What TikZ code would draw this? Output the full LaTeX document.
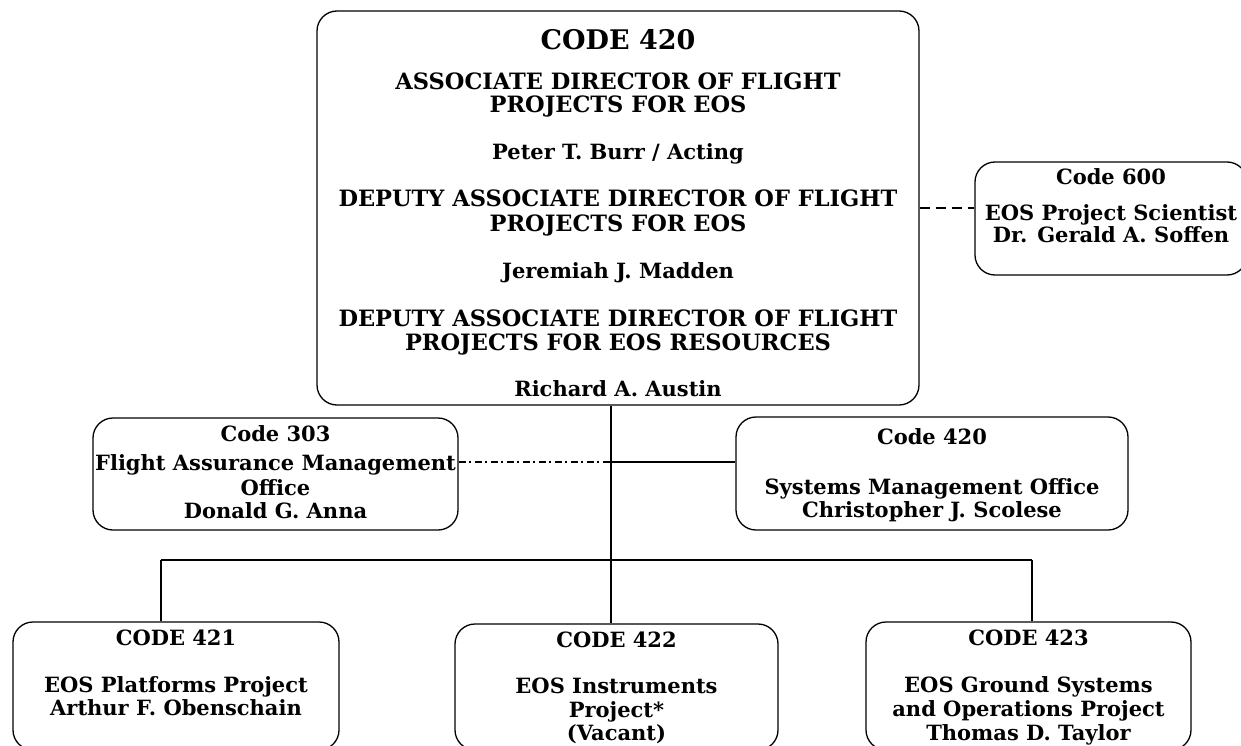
\documentclass[tikz,border=0pt]{standalone}
\usepackage{fontspec}
\setmainfont{DejaVu Serif}
\usetikzlibrary{positioning}

\tikzset{
    orgbox/.style={draw, line width=1.3pt, rounded corners=20pt, inner sep=0pt},
    lbl/.style={font=\bfseries\fontsize{21}{24}\selectfont, anchor=base, inner sep=0pt},
    capl/.style={lbl, font=\bfseries\fontsize{22.5}{25}\selectfont},
    bigl/.style={lbl, font=\bfseries\fontsize{27}{30}\selectfont},
    link/.style={line width=1.2pt}
}

\begin{document}
\begin{tikzpicture}[x=1pt, y=-1pt]
    \useasboundingbox (0,0) rectangle (1241,746);

    % boxes
    \node[orgbox, minimum width=602pt, minimum height=394pt] (dir) at (618,208) {};
    \node[orgbox, minimum width=272pt, minimum height=113pt] (sci) at (1111,218.5) {};
    \node[orgbox, minimum width=365pt, minimum height=112pt] (fam) at (275.5,474) {};
    \node[orgbox, minimum width=392pt, minimum height=113pt] (smo) at (932,473.5) {};
    \node[orgbox, minimum width=326pt, minimum height=128pt] (plat) at (176,686) {};
    \node[orgbox, minimum width=323pt, minimum height=126pt] (inst) at (616.5,687) {};
    \node[orgbox, minimum width=325pt, minimum height=128pt] (grnd) at (1028.5,686) {};

    % texts of the director box
    \node[bigl] (dir1) at (618,50) {CODE 420};
    \node[capl] (dir2) at (618,90) {ASSOCIATE DIRECTOR OF FLIGHT};
    \node[capl] (dir3) at (618,113) {PROJECTS FOR EOS};
    \node[lbl] (dir4) at (618,160) {Peter T. Burr / Acting};
    \node[capl] (dir5) at (618,207) {DEPUTY ASSOCIATE DIRECTOR OF FLIGHT};
    \node[capl] (dir6) at (618,231) {PROJECTS FOR EOS};
    \node[lbl] (dir7) at (618,278) {Jeremiah J. Madden};
    \node[capl] (dir8) at (618,326) {DEPUTY ASSOCIATE DIRECTOR OF FLIGHT};
    \node[capl] (dir9) at (618,350) {PROJECTS FOR EOS RESOURCES};
    \node[lbl] (dir10) at (618,396) {Richard A. Austin};

    \node[lbl] (sci1) at (1111,185) {Code 600};
    \node[lbl] (sci2) at (1111,220) {EOS Project Scientist};
    \node[lbl] (sci3) at (1111,242) {Dr. Gerald A. Soffen};

    \node[lbl] (fam1) at (275.5,441) {Code 303};
    \node[lbl] (fam2) at (275.5,470) {Flight Assurance Management};
    \node[lbl] (fam3) at (275.5,495) {Office};
    \node[lbl] (fam4) at (275.5,518) {Donald G. Anna};

    \node[lbl] (smo1) at (932,444) {Code 420};
    \node[lbl] (smo2) at (932,494) {Systems Management Office};
    \node[lbl] (smo3) at (932,517) {Christopher J. Scolese};

    \node[lbl] (plat1) at (176,645) {CODE 421};
    \node[lbl] (plat2) at (176,692) {EOS Platforms Project};
    \node[lbl] (plat3) at (176,715) {Arthur F. Obenschain};

    \node[lbl] (inst1) at (616.5,647) {CODE 422};
    \node[lbl] (inst2) at (616.5,693) {EOS Instruments};
    \node[lbl] (inst3) at (616.5,717) {Project*};
    \node[lbl] (inst4) at (616.5,740) {(Vacant)};

    \node[lbl] (grnd1) at (1028.5,645) {CODE 423};
    \node[lbl] (grnd2) at (1028.5,692) {EOS Ground Systems};
    \node[lbl] (grnd3) at (1028.5,716) {and Operations Project};
    \node[lbl] (grnd4) at (1028.5,740) {Thomas D. Taylor};

    % connectors
    \coordinate (trunk) at (611,560);
    \coordinate (busl) at (161,560);
    \coordinate (busr) at (1032,560);
    \coordinate (side) at (611,462);
    \coordinate (sciln) at (950,208);

    \draw[link] (dir.south -| trunk) -- (inst.north -| trunk);
    \draw[link] (busl) -- (busr);
    \draw[link] (busl) -- (plat.north -| busl);
    \draw[link] (busr) -- (grnd.north -| busr);
    \draw[link, dash pattern=on 7pt off 3pt on 2pt off 4pt] (fam.east |- side) -- (side);
    \draw[link] (side) -- (smo.west |- side);
    \draw[link, dash pattern=on 10pt off 6pt] (dir.east |- sciln) -- (sci.west |- sciln);
\end{tikzpicture}
\end{document}
